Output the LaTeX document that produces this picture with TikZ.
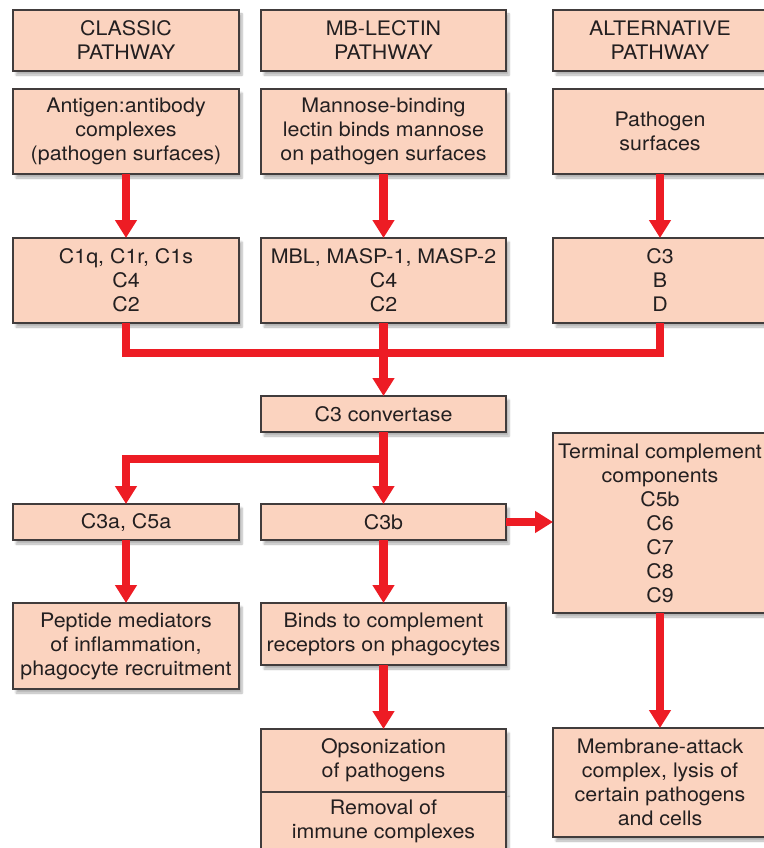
\documentclass[tikz,border=0pt]{standalone}
\usepackage{fontspec}
\setmainfont{TeX Gyre Heros}[FakeStretch=1.07]
\usetikzlibrary{arrows.meta, shadows.blur}
\definecolor{peach}{RGB}{251,211,191}
\definecolor{edgegray}{RGB}{65,60,60}
\definecolor{inkgray}{RGB}{35,31,32}
\definecolor{flowred}{RGB}{237,28,36}

\begin{document}
\begin{tikzpicture}[
  x=1pt, y=-1pt,
  every node/.style={font=\fontsize{20}{24}\selectfont, text=inkgray, align=center, inner sep=0pt, outer sep=0pt},
  stage/.style={draw=edgegray, line width=1.1pt, fill=peach, blur shadow={shadow xshift=3pt, shadow yshift=-4pt, shadow blur steps=6, shadow opacity=30}},
  colA/.style={stage, minimum width=226pt},
  colB/.style={stage, minimum width=245pt},
  colC/.style={stage, minimum width=214pt},
  flow/.style={draw=flowred, line width=8.5pt, -{Triangle[width=21pt, length=18pt]}},
  trunk/.style={draw=flowred, line width=8.5pt}
]
  \useasboundingbox (0,0) rectangle (763,848);

  \node[colA, minimum height=61pt] (hdA) at (126,40.5) {CLASSIC\\PATHWAY};
  \node[colB, minimum height=61pt] (hdB) at (383.5,40.5) {MB-LECTIN\\PATHWAY};
  \node[colC, minimum height=61pt] (hdC) at (660,40.5) {ALTERNATIVE\\PATHWAY};

  \node[colA, minimum height=85pt] (srcA) at (126,131.5) {Antigen:antibody\\complexes\\(pathogen surfaces)};
  \node[colB, minimum height=85pt] (srcB) at (383.5,131.5) {Mannose-binding\\lectin binds mannose\\on pathogen surfaces};
  \node[colC, minimum height=85pt] (srcC) at (660,131.5) {Pathogen\\surfaces};

  \node[colA, minimum height=85pt] (r3A) at (126,280.5) {C1q, C1r, C1s\\C4\\C2};
  \node[colB, minimum height=85pt] (r3B) at (383.5,280.5) {MBL, MASP-1, MASP-2\\C4\\C2};
  \node[colC, minimum height=85pt] (r3C) at (660,280.5) {C3\\B\\D};

  \node[colB, minimum height=36pt] (conv) at (383.5,414) {C3 convertase};
  \node[colA, minimum height=36pt] (c3a) at (126,522) {C3a, C5a};
  \node[colB, minimum height=36pt] (c3b) at (383.5,522) {C3b};
  \node[colC, minimum height=180pt] (term) at (660,523) {Terminal complement\\components\\C5b\\C6\\C7\\C8\\C9};

  \node[colA, minimum height=86pt] (pept) at (126,646) {Peptide mediators\\of inflammation,\\phagocyte recruitment};
  \node[colB, minimum height=62pt] (bind) at (383.5,634) {Binds to complement\\receptors on phagocytes};
  \node[colB, minimum height=63pt] (opso) at (383.5,760.5) {Opsonization\\of pathogens};
  \node[colB, minimum height=58pt] (remv) at (383.5,821.5) {Removal of\\immune complexes};
  \node[colC, minimum height=109pt] (mac) at (660,782.5) {Membrane-attack\\complex, lysis of\\certain pathogens\\and cells};

  \coordinate (jn) at (383.5,353);
  \coordinate (br) at (383.5,459);

  \draw[flow] (srcA) -- (r3A);
  \draw[flow] (srcB) -- (r3B);
  \draw[flow] (srcC) -- (r3C);
  \draw[trunk] (r3A.south) |- (jn) -| (r3C.south);
  \draw[flow] (r3B) -- (conv);
  \draw[flow] (conv) -- (c3b);
  \draw[flow] (br) -| (c3a.north);
  \draw[flow] (c3b.east) -- (c3b.east -| term.west);
  \draw[flow] (c3a) -- (pept);
  \draw[flow] (c3b) -- (bind);
  \draw[flow] (bind) -- (opso);
  \draw[flow] (term) -- (mac);
\end{tikzpicture}
\end{document}
